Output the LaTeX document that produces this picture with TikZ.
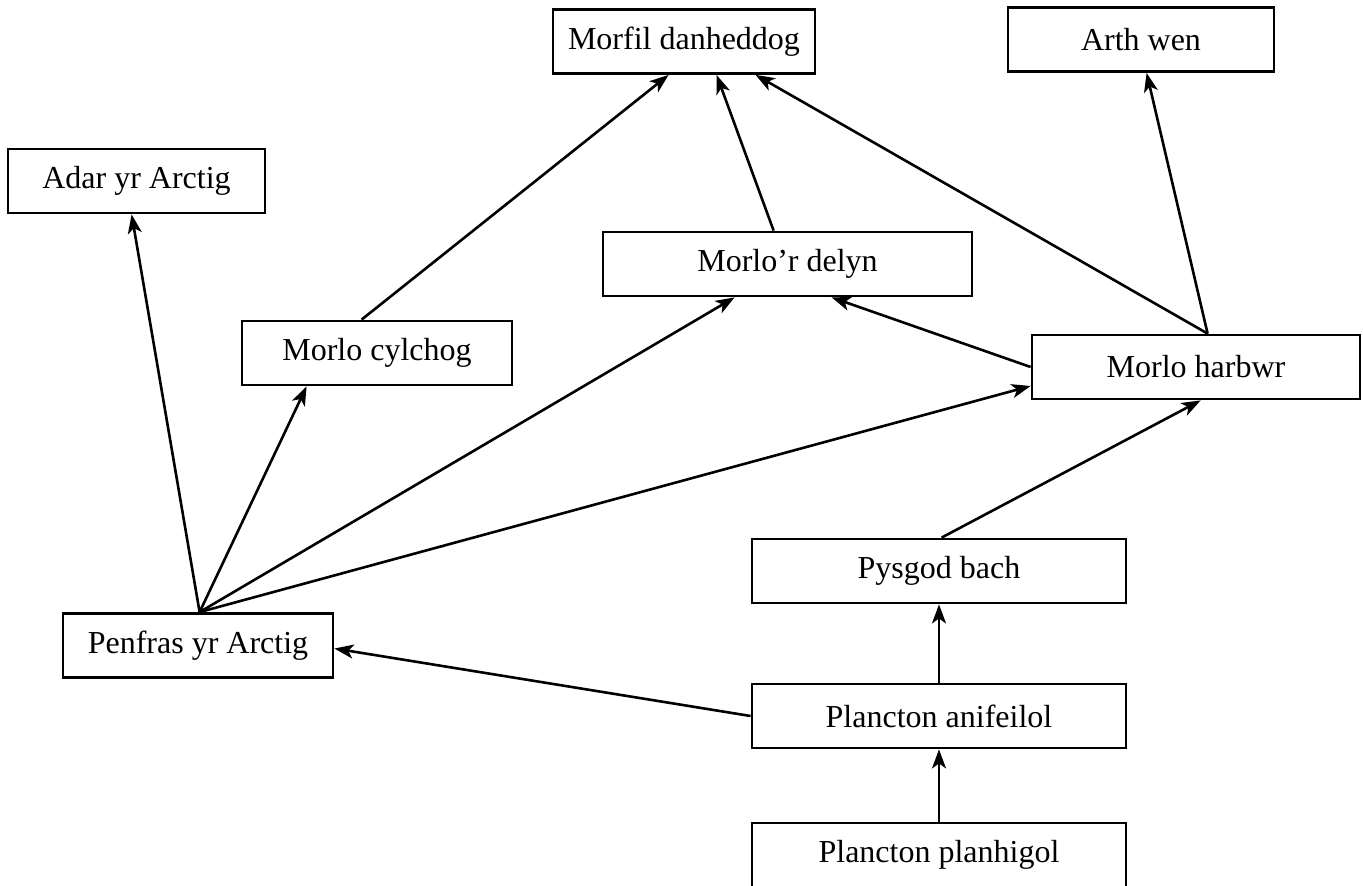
\documentclass[tikz,border=0pt]{standalone}
\usepackage{fontspec}
\setmainfont{Liberation Serif}
\usetikzlibrary{arrows.meta}
\begin{document}
\begin{tikzpicture}[x=1pt,y=-1pt,
  box/.style={draw,line width=2.8pt,minimum height=64pt,inner sep=0pt,font=\fontsize{32}{36}\selectfont,fill=white},
  arr/.style={line width=2.6pt,-{Stealth[length=19pt,width=14pt,inset=5pt]}}]
\useasboundingbox (0,0) rectangle (1363,886);
\node[box,minimum width=262pt] (morfil) at (684,41.5) {Morfil danheddog};
\node[box,minimum width=266pt] (arth) at (1141,39.5) {Arth wen};
\node[box,minimum width=257pt] (adar) at (136.5,181) {Adar yr Arctig};
\node[box,minimum width=369pt] (delyn) at (787.5,264) {Morlo’r delyn};
\node[box,minimum width=270pt] (cylchog) at (377,353) {Morlo cylchog};
\node[box,minimum width=328pt] (harbwr) at (1196,367) {Morlo harbwr};
\node[box,minimum width=374pt] (pysgod) at (939,571) {Pysgod bach};
\node[box,minimum width=270pt] (penfras) at (198,645.5) {Penfras yr Arctig};
\node[box,minimum width=374pt] (anif) at (939,716) {Plancton anifeilol};
\node[box,minimum width=374pt] (planh) at (939,855) {Plancton planhigol};
% from Penfras
\draw[arr] ([xshift=138pt]penfras.north west) -- ([xshift=125pt]adar.south west);
\draw[arr] ([xshift=138pt]penfras.north west) -- ([xshift=66pt]cylchog.south west);
\draw[arr] ([xshift=138pt]penfras.north west) -- ([xshift=133pt]delyn.south west);
\draw[arr] ([xshift=138pt]penfras.north west) -- ([yshift=-19pt]harbwr.west);
% plankton chain
\draw[arr] (anif.west) -- ([yshift=-3pt]penfras.east);
\draw[arr] (anif.north) -- (pysgod.south);
\draw[arr] (planh.north) -- (anif.south);
\draw[arr] ([xshift=191pt]pysgod.north west) -- ([xshift=170pt]harbwr.south west);
% harbwr
\draw[arr] (harbwr.west) -- ([xshift=230pt]delyn.south west);
\draw[arr] ([xshift=177pt]harbwr.north west) -- ([xshift=140pt]arth.south west);
\draw[arr] ([xshift=177pt]harbwr.north west) -- ([xshift=204pt]morfil.south west);
% to morfil
\draw[arr] ([xshift=172pt]delyn.north west) -- ([xshift=165pt]morfil.south west);
\draw[arr] ([xshift=121pt]cylchog.north west) -- ([xshift=117pt]morfil.south west);
\end{tikzpicture}
\end{document}
